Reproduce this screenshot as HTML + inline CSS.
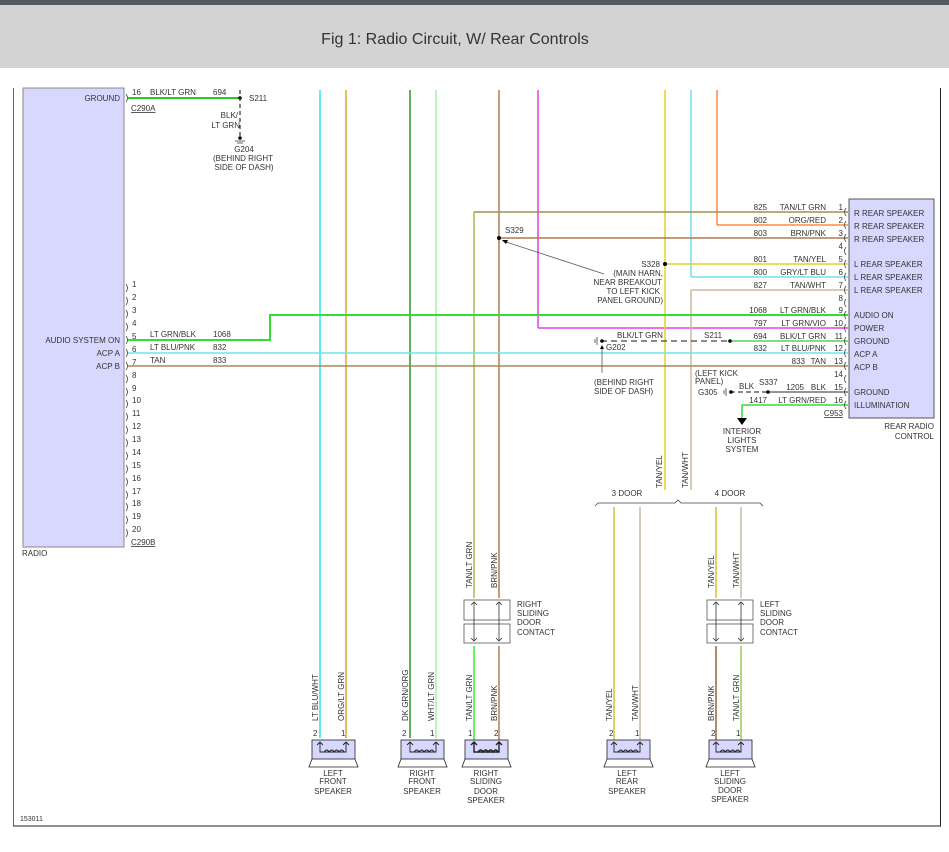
<!DOCTYPE html>
<html><head><meta charset="utf-8"><style>
html,body{margin:0;padding:0;background:#fff;width:949px;height:852px;overflow:hidden}
svg{display:block}
text{font-family:"Liberation Sans",sans-serif;font-size:8px;fill:#333}
</style></head><body>
<svg width="949" height="852" viewBox="0 0 949 852" xmlns="http://www.w3.org/2000/svg">
<rect x="0" y="0" width="949" height="5" fill="#555a5e"/>
<rect x="0" y="5" width="949" height="63" fill="#d3d3d3"/>
<text x="455" y="44" text-anchor="middle" style="font-size:16px;fill:#333">Fig 1: Radio Circuit, W/ Rear Controls</text>
<!-- frame -->
<line x1="13.5" y1="88" x2="13.5" y2="826" stroke="#666" stroke-width="1"/>
<line x1="940.5" y1="88" x2="940.5" y2="826" stroke="#222" stroke-width="1"/>
<line x1="13" y1="826" x2="941" y2="826" stroke="#222" stroke-width="1"/>
<text x="20" y="821" style="font-size:7px">153011</text>
<!-- radio box -->
<rect x="23" y="88" width="101" height="459" fill="#d8d8ff" stroke="#888" stroke-width="1"/>
<text x="120" y="101" text-anchor="end">GROUND</text>
<text x="120" y="343" text-anchor="end">AUDIO SYSTEM ON</text>
<text x="120" y="356" text-anchor="end">ACP A</text>
<text x="120" y="369" text-anchor="end">ACP B</text>
<text x="22" y="556">RADIO</text>
<text x="131" y="111" style="text-decoration:underline">C290A</text>
<text x="131" y="545" style="text-decoration:underline">C290B</text>
<g fill="none" stroke="#444" stroke-width="0.8">
<path d="M126,94 q3,4 0,8"/>
<path d="M126,284 q3,4 0,8"/><path d="M126,297 q3,4 0,8"/><path d="M126,310 q3,4 0,8"/><path d="M126,323 q3,4 0,8"/><path d="M126,336 q3,4 0,8"/><path d="M126,349 q3,4 0,8"/><path d="M126,362 q3,4 0,8"/><path d="M126,375 q3,4 0,8"/><path d="M126,388 q3,4 0,8"/><path d="M126,400 q3,4 0,8"/><path d="M126,413 q3,4 0,8"/><path d="M126,426 q3,4 0,8"/><path d="M126,439 q3,4 0,8"/><path d="M126,452 q3,4 0,8"/><path d="M126,465 q3,4 0,8"/><path d="M126,478 q3,4 0,8"/><path d="M126,491 q3,4 0,8"/><path d="M126,503 q3,4 0,8"/><path d="M126,516 q3,4 0,8"/><path d="M126,529 q3,4 0,8"/>
</g>
<g style="font-size:7px">
<text x="132" y="95">16</text>
<text x="132" y="287">1</text><text x="132" y="300">2</text><text x="132" y="313">3</text><text x="132" y="326">4</text><text x="132" y="339">5</text><text x="132" y="352">6</text><text x="132" y="365">7</text><text x="132" y="378">8</text><text x="132" y="391">9</text><text x="132" y="403">10</text><text x="132" y="416">11</text><text x="132" y="429">12</text><text x="132" y="442">13</text><text x="132" y="455">14</text><text x="132" y="468">15</text><text x="132" y="481">16</text><text x="132" y="494">17</text><text x="132" y="506">18</text><text x="132" y="519">19</text><text x="132" y="532">20</text>
</g>
<!-- ground top -->
<line x1="128" y1="98" x2="240" y2="98" stroke="#22cc22" stroke-width="2"/>
<text x="150" y="95">BLK/LT GRN</text><text x="213" y="95">694</text>
<circle cx="240" cy="98" r="1.8" fill="#000"/>
<text x="249" y="101">S211</text>
<line x1="240" y1="90" x2="240" y2="138" stroke="#333" stroke-width="1.2" stroke-dasharray="4,3"/>
<text x="238" y="118" text-anchor="end">BLK/</text><text x="240" y="128" text-anchor="end">LT GRN</text>
<circle cx="240" cy="138" r="1.8" fill="#000"/>
<line x1="235" y1="141" x2="245" y2="141" stroke="#666"/><line x1="237" y1="143" x2="243" y2="143" stroke="#666"/>
<text x="244" y="152" text-anchor="middle">G204</text>
<text x="243" y="161" text-anchor="middle">(BEHIND RIGHT</text>
<text x="244" y="170" text-anchor="middle">SIDE OF DASH)</text>
<!-- vertical wires top -->
<line x1="320" y1="90" x2="320" y2="738" stroke="#33e0f0" stroke-width="1.5"/>
<line x1="346" y1="90" x2="346" y2="738" stroke="#d8a830" stroke-width="1.5"/>
<line x1="410" y1="90" x2="410" y2="738" stroke="#2a9a2a" stroke-width="1.5"/>
<line x1="436" y1="90" x2="436" y2="738" stroke="#aaf0aa" stroke-width="1.5"/>
<line x1="499" y1="90" x2="499" y2="598" stroke="#b07a50" stroke-width="1.5"/>
<line x1="538" y1="90" x2="538" y2="328" stroke="#e040e0" stroke-width="1.5"/>
<line x1="538" y1="328" x2="848" y2="328" stroke="#e040e0" stroke-width="1.5"/>
<line x1="665" y1="90" x2="665" y2="490" stroke="#e8d020" stroke-width="1.5"/>
<line x1="691" y1="90" x2="691" y2="277" stroke="#70e0f0" stroke-width="1.5"/>
<line x1="717" y1="90" x2="717" y2="225" stroke="#ff8844" stroke-width="1.5"/>
<!-- rear horizontals -->
<line x1="474" y1="212" x2="848" y2="212" stroke="#a09050" stroke-width="1.5"/>
<line x1="474" y1="212" x2="474" y2="598" stroke="#a0c050" stroke-width="1.5"/>
<line x1="717" y1="225" x2="848" y2="225" stroke="#ff8844" stroke-width="1.5"/>
<line x1="499" y1="238" x2="848" y2="238" stroke="#b07a50" stroke-width="1.5"/>
<circle cx="499" cy="238" r="2" fill="#000"/><text x="505" y="233">S329</text>
<line x1="665" y1="264" x2="848" y2="264" stroke="#e8d020" stroke-width="1.5"/>
<circle cx="665" cy="264" r="2" fill="#000"/><text x="660" y="267" text-anchor="end">S328</text>
<line x1="691" y1="277" x2="848" y2="277" stroke="#70e0f0" stroke-width="1.5"/>
<line x1="691" y1="290" x2="848" y2="290" stroke="#c8bca0" stroke-width="1.5"/>
<line x1="691" y1="290" x2="691" y2="490" stroke="#c8bca0" stroke-width="1.5"/>
<line x1="503" y1="241" x2="604" y2="274" stroke="#555" stroke-width="0.8"/>
<path d="M502,240 l6,0 l-2,4 z" fill="#000"/>
<text x="663" y="276" text-anchor="end">(MAIN HARN,</text>
<text x="662" y="285" text-anchor="end">NEAR BREAKOUT</text>
<text x="660" y="294" text-anchor="end">TO LEFT KICK</text>
<text x="663" y="303" text-anchor="end">PANEL GROUND)</text>
<!-- audio on -->
<path d="M128,340 H270 V315 H848" fill="none" stroke="#33dd33" stroke-width="2"/>
<text x="150" y="337">LT GRN/BLK</text><text x="213" y="337">1068</text>
<line x1="128" y1="353" x2="848" y2="353" stroke="#66e8f0" stroke-width="1.5"/>
<text x="150" y="350">LT BLU/PNK</text><text x="213" y="350">832</text>
<line x1="128" y1="366" x2="848" y2="366" stroke="#a88a50" stroke-width="1.5"/>
<text x="150" y="363">TAN</text><text x="213" y="363">833</text>
<!-- ground 11 -->
<line x1="730" y1="341" x2="848" y2="341" stroke="#33cc33" stroke-width="1.2"/>
<line x1="601" y1="341" x2="730" y2="341" stroke="#444" stroke-width="1.2" stroke-dasharray="6,4"/>
<circle cx="730" cy="341" r="1.8" fill="#000"/><circle cx="602" cy="341" r="1.8" fill="#000"/>
<line x1="597" y1="337" x2="597" y2="345" stroke="#666"/><line x1="595" y1="339" x2="595" y2="343" stroke="#666"/>
<text x="617" y="338">BLK/LT GRN</text><text x="704" y="338">S211</text>
<text x="606" y="350">G202</text>
<line x1="602" y1="347" x2="602" y2="373" stroke="#555" stroke-width="0.8"/>
<path d="M600,349 l2,-4 l2,4 z" fill="#000"/>
<text x="594" y="385">(BEHIND RIGHT</text><text x="594" y="394">SIDE OF DASH)</text>
<!-- pin 15/16 -->
<line x1="768" y1="392" x2="848" y2="392" stroke="#555" stroke-width="1.2"/>
<line x1="730" y1="392" x2="768" y2="392" stroke="#444" stroke-width="1.2" stroke-dasharray="5,3"/>
<circle cx="768" cy="392" r="1.8" fill="#000"/><circle cx="731" cy="392" r="1.8" fill="#000"/>
<line x1="726" y1="388" x2="726" y2="396" stroke="#666"/><line x1="724" y1="390" x2="724" y2="394" stroke="#666"/>
<text x="695" y="376">(LEFT KICK</text><text x="695" y="384">PANEL)</text>
<text x="698" y="395">G305</text><text x="739" y="389">BLK</text><text x="759" y="385">S337</text>
<path d="M848,405 H742 V418" fill="none" stroke="#33dd33" stroke-width="1.5"/>
<path d="M737,418 h10 l-5,7 z" fill="#000"/>
<text x="742" y="434" text-anchor="middle">INTERIOR</text><text x="742" y="443" text-anchor="middle">LIGHTS</text><text x="742" y="452" text-anchor="middle">SYSTEM</text>
<!-- rear radio control -->
<rect x="849" y="199" width="85" height="219" fill="#d8d8ff" stroke="#555" stroke-width="1"/>
<g fill="none" stroke="#444" stroke-width="0.8">
<path d="M846,208 q-3,4 0,8"/><path d="M846,221 q-3,4 0,8"/><path d="M846,234 q-3,4 0,8"/><path d="M846,247 q-3,4 0,8"/><path d="M846,260 q-3,4 0,8"/><path d="M846,273 q-3,4 0,8"/><path d="M846,286 q-3,4 0,8"/><path d="M846,299 q-3,4 0,8"/><path d="M846,311 q-3,4 0,8"/><path d="M846,324 q-3,4 0,8"/><path d="M846,337 q-3,4 0,8"/><path d="M846,349 q-3,4 0,8"/><path d="M846,362 q-3,4 0,8"/><path d="M846,375 q-3,4 0,8"/><path d="M846,388 q-3,4 0,8"/><path d="M846,401 q-3,4 0,8"/>
</g>
<g text-anchor="end">
<text x="843" y="210">1</text><text x="843" y="223">2</text><text x="843" y="236">3</text><text x="843" y="249">4</text><text x="843" y="262">5</text><text x="843" y="275">6</text><text x="843" y="288">7</text><text x="843" y="301">8</text><text x="843" y="313">9</text><text x="843" y="326">10</text><text x="843" y="339">11</text><text x="843" y="351">12</text><text x="843" y="364">13</text><text x="843" y="377">14</text><text x="843" y="390">15</text><text x="843" y="403">16</text>
<text x="826" y="210">TAN/LT GRN</text><text x="826" y="223">ORG/RED</text><text x="826" y="236">BRN/PNK</text><text x="826" y="262">TAN/YEL</text><text x="826" y="275">GRY/LT BLU</text><text x="826" y="288">TAN/WHT</text><text x="826" y="313">LT GRN/BLK</text><text x="826" y="326">LT GRN/VIO</text><text x="826" y="339">BLK/LT GRN</text><text x="826" y="351">LT BLU/PNK</text><text x="826" y="364">TAN</text><text x="826" y="390">BLK</text><text x="826" y="403">LT GRN/RED</text>
<text x="767" y="210">825</text><text x="767" y="223">802</text><text x="767" y="236">803</text><text x="767" y="262">801</text><text x="767" y="275">800</text><text x="767" y="288">827</text><text x="767" y="313">1068</text><text x="767" y="326">797</text><text x="767" y="339">694</text><text x="767" y="351">832</text><text x="805" y="364">833</text><text x="804" y="390">1205</text><text x="767" y="403">1417</text>
</g>
<g>
<text x="854" y="216">R REAR SPEAKER</text><text x="854" y="229">R REAR SPEAKER</text><text x="854" y="242">R REAR SPEAKER</text>
<text x="854" y="267">L REAR SPEAKER</text><text x="854" y="280">L REAR SPEAKER</text><text x="854" y="293">L REAR SPEAKER</text>
<text x="854" y="318">AUDIO ON</text><text x="854" y="331">POWER</text><text x="854" y="344">GROUND</text><text x="854" y="357">ACP A</text><text x="854" y="370">ACP B</text><text x="854" y="395">GROUND</text><text x="854" y="408">ILLUMINATION</text>
</g>
<text x="843" y="416" text-anchor="end" style="text-decoration:underline">C953</text>
<text x="934" y="429" text-anchor="end">REAR RADIO</text><text x="934" y="439" text-anchor="end">CONTROL</text>
<!-- 3 door / 4 door -->
<text x="662" y="488" transform="rotate(-90 662 488)">TAN/YEL</text>
<text x="688" y="488" transform="rotate(-90 688 488)">TAN/WHT</text>
<text x="627" y="496" text-anchor="middle">3 DOOR</text><text x="730" y="496" text-anchor="middle">4 DOOR</text>
<path d="M595,506 l3,-3 H675 l3,-3 l3,3 H760 l3,3" fill="none" stroke="#444" stroke-width="0.8"/>
<line x1="614" y1="507" x2="614" y2="740" stroke="#d8c030" stroke-width="1.5"/>
<line x1="640" y1="507" x2="640" y2="740" stroke="#c8bca0" stroke-width="1.5"/>
<line x1="716" y1="507" x2="716" y2="598" stroke="#d8c030" stroke-width="1.5"/>
<line x1="741" y1="507" x2="741" y2="598" stroke="#c8bca0" stroke-width="1.5"/>
<!-- door contacts -->
<g fill="none" stroke="#555" stroke-width="0.8">
<rect x="464" y="600" width="46" height="20"/><rect x="464" y="624" width="46" height="19"/>
<rect x="707" y="600" width="46" height="20"/><rect x="707" y="624" width="46" height="19"/>
</g>
<g stroke="#333" stroke-width="0.8" fill="none">
<line x1="474" y1="602" x2="474" y2="641"/><line x1="499" y1="602" x2="499" y2="641"/>
<line x1="716" y1="602" x2="716" y2="641"/><line x1="741" y1="602" x2="741" y2="641"/>
<path d="M471,605 l3,-3 l3,3 M496,605 l3,-3 l3,3 M471,638 l3,3 l3,-3 M496,638 l3,3 l3,-3"/>
<path d="M713,605 l3,-3 l3,3 M738,605 l3,-3 l3,3 M713,638 l3,3 l3,-3 M738,638 l3,3 l3,-3"/>
</g>
<text x="517" y="607">RIGHT</text><text x="517" y="616">SLIDING</text><text x="517" y="625">DOOR</text><text x="517" y="635">CONTACT</text>
<text x="760" y="607">LEFT</text><text x="760" y="616">SLIDING</text><text x="760" y="625">DOOR</text><text x="760" y="635">CONTACT</text>
<line x1="474" y1="646" x2="474" y2="740" stroke="#33ee33" stroke-width="1.5"/>
<line x1="499" y1="646" x2="499" y2="740" stroke="#b08050" stroke-width="1.5"/>
<line x1="716" y1="646" x2="716" y2="740" stroke="#a06030" stroke-width="1.5"/>
<line x1="741" y1="646" x2="741" y2="740" stroke="#99cc55" stroke-width="1.5"/>
<!-- vertical labels -->
<g>
<text x="472" y="588" transform="rotate(-90 472 588)">TAN/LT GRN</text>
<text x="497" y="588" transform="rotate(-90 497 588)">BRN/PNK</text>
<text x="714" y="588" transform="rotate(-90 714 588)">TAN/YEL</text>
<text x="739" y="588" transform="rotate(-90 739 588)">TAN/WHT</text>
<text x="318" y="721" transform="rotate(-90 318 721)">LT BLU/WHT</text>
<text x="344" y="721" transform="rotate(-90 344 721)">ORG/LT GRN</text>
<text x="408" y="721" transform="rotate(-90 408 721)">DK GRN/ORG</text>
<text x="434" y="721" transform="rotate(-90 434 721)">WHT/LT GRN</text>
<text x="472" y="721" transform="rotate(-90 472 721)">TAN/LT GRN</text>
<text x="497" y="721" transform="rotate(-90 497 721)">BRN/PNK</text>
<text x="612" y="721" transform="rotate(-90 612 721)">TAN/YEL</text>
<text x="638" y="721" transform="rotate(-90 638 721)">TAN/WHT</text>
<text x="714" y="721" transform="rotate(-90 714 721)">BRN/PNK</text>
<text x="739" y="721" transform="rotate(-90 739 721)">TAN/LT GRN</text>
</g>
<!-- speakers -->
<g style="font-size:7px">
<text x="313" y="736">2</text><text x="341" y="736">1</text>
<text x="402" y="736">2</text><text x="430" y="736">1</text>
<text x="468" y="736">1</text><text x="494" y="736">2</text>
<text x="609" y="736">2</text><text x="635" y="736">1</text>
<text x="711" y="736">2</text><text x="736" y="736">1</text>
</g>
<g stroke="#222" stroke-width="0.8">
<rect x="312" y="740" width="43" height="19" fill="#d8d8ff"/><path d="M312,759 l-3,8 h49 l-3,-8" fill="none"/>
<rect x="401" y="740" width="43" height="19" fill="#d8d8ff"/><path d="M401,759 l-3,8 h49 l-3,-8" fill="none"/>
<rect x="465" y="740" width="43" height="19" fill="#d8d8ff"/><path d="M465,759 l-3,8 h49 l-3,-8" fill="none"/>
<rect x="607" y="740" width="43" height="19" fill="#d8d8ff"/><path d="M607,759 l-3,8 h49 l-3,-8" fill="none"/>
<rect x="709" y="740" width="43" height="19" fill="#d8d8ff"/><path d="M709,759 l-3,8 h49 l-3,-8" fill="none"/>
</g>
<g fill="none" stroke="#222" stroke-width="0.9">
<path d="M320,742 V752 H346 V742 M324,752 q3,-4 5,0 q3,-4 5,0 q3,-4 5,0 q3,-4 5,0 M317,745 l3,-3 l3,3 M343,745 l3,-3 l3,3"/>
<path d="M410,742 V752 H436 V742 M414,752 q3,-4 5,0 q3,-4 5,0 q3,-4 5,0 q3,-4 5,0 M407,745 l3,-3 l3,3 M433,745 l3,-3 l3,3"/>
<path d="M474,742 V752 H499 V742 M478,752 q3,-4 5,0 q3,-4 5,0 q3,-4 5,0 q3,-4 5,0 M471,745 l3,-3 l3,3 M496,745 l3,-3 l3,3" stroke-width="1.4"/>
<path d="M614,742 V752 H640 V742 M618,752 q3,-4 5,0 q3,-4 5,0 q3,-4 5,0 q3,-4 5,0 M611,745 l3,-3 l3,3 M637,745 l3,-3 l3,3"/>
<path d="M716,742 V752 H741 V742 M720,752 q3,-4 5,0 q3,-4 5,0 q3,-4 5,0 q3,-4 5,0 M713,745 l3,-3 l3,3 M738,745 l3,-3 l3,3"/>
</g>
<g text-anchor="middle">
<text x="333" y="776">LEFT</text><text x="333" y="784">FRONT</text><text x="333" y="794">SPEAKER</text>
<text x="422" y="776">RIGHT</text><text x="422" y="784">FRONT</text><text x="422" y="794">SPEAKER</text>
<text x="486" y="776">RIGHT</text><text x="486" y="784">SLIDING</text><text x="486" y="794">DOOR</text><text x="486" y="803">SPEAKER</text>
<text x="627" y="776">LEFT</text><text x="627" y="784">REAR</text><text x="627" y="794">SPEAKER</text>
<text x="730" y="776">LEFT</text><text x="730" y="784">SLIDING</text><text x="730" y="793">DOOR</text><text x="730" y="802">SPEAKER</text>
</g>
</svg>
</body></html>
